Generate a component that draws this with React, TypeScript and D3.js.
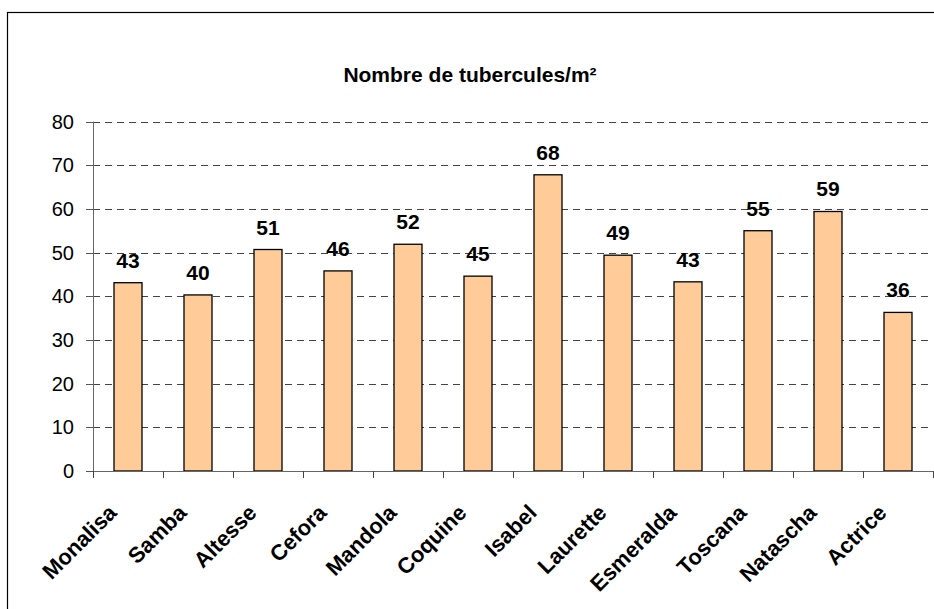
import React from "react";
import * as d3 from "d3";

const categories = ["Monalisa", "Samba", "Altesse", "Cefora", "Mandola", "Coquine", "Isabel", "Laurette", "Esmeralda", "Toscana", "Natascha", "Actrice"];
const values = [43.1, 40.3, 50.7, 45.8, 51.9, 44.6, 67.8, 49.4, 43.3, 55.0, 59.4, 36.3];
const yTicks = [0, 10, 20, 30, 40, 50, 60, 70, 80];
const title = "Nombre de tubercules/m²";

const W = 934, H = 609;
const left = 93, right = 933, top = 121.5, bottom = 471;
const FONT = "Arial, 'Liberation Sans', sans-serif";

export default function App() {
  const x = d3.scaleBand<string>().domain(categories).range([left, right]).paddingInner(0).paddingOuter(0);
  const y = d3.scaleLinear().domain([0, 80]).range([bottom, top]);
  const bw = x.bandwidth() / 2.5;
  const boundaries = d3.range(categories.length + 1).map(i => left + i * x.step());

  return (
    <svg width={W} height={H} style={{ position: "absolute", left: 0, top: 0, background: "#fff" }} fontFamily={FONT}>
      <rect x={7.5} y={12.5} width={1000} height={1000} fill="#fff" stroke="#000" strokeWidth={1.2} />
      <text x={470} y={82} textAnchor="middle" fontWeight="bold" fontSize={21}>{title}</text>
      {yTicks.filter(t => t > 0).map(t => (
        <line key={"g" + t} x1={left} x2={right} y1={Math.round(y(t)) + 0.5} y2={Math.round(y(t)) + 0.5} stroke="#444" strokeDasharray="7,5" strokeWidth={1} />
      ))}
      {yTicks.map(t => (
        <g key={"t" + t}>
          <line x1={left - 7} x2={left} y1={Math.round(y(t)) + 0.5} y2={Math.round(y(t)) + 0.5} stroke="#555" />
          <text x={left - 19} y={y(t) + 7} textAnchor="end" fontSize={20}>{t}</text>
        </g>
      ))}
      <line x1={left + 0.5} x2={left + 0.5} y1={top} y2={bottom} stroke="#666" />
      {categories.map((c, i) => {
        const cx = (x(c) as number) + x.bandwidth() / 2;
        return (
          <g key={c}>
            <rect x={cx - bw / 2} y={y(values[i])} width={bw} height={bottom - y(values[i])} fill="#FFCC99" stroke="#000" strokeWidth={1.3} />
            <text x={cx} y={y(values[i]) - 15} textAnchor="middle" fontWeight="bold" fontSize={21}>{d3.format(".0f")(values[i])}</text>
            <text transform={`translate(${cx - 10},${bottom + 43}) rotate(-45)`} textAnchor="end" fontWeight="bold" fontSize={22}>{c}</text>
          </g>
        );
      })}
      <line x1={left} x2={right} y1={bottom + 0.5} y2={bottom + 0.5} stroke="#666" />
      {boundaries.map((b, i) => (
        <line key={"xb" + i} x1={Math.round(b) + 0.5} x2={Math.round(b) + 0.5} y1={bottom} y2={bottom + 7} stroke="#444" />
      ))}
    </svg>
  );
}
